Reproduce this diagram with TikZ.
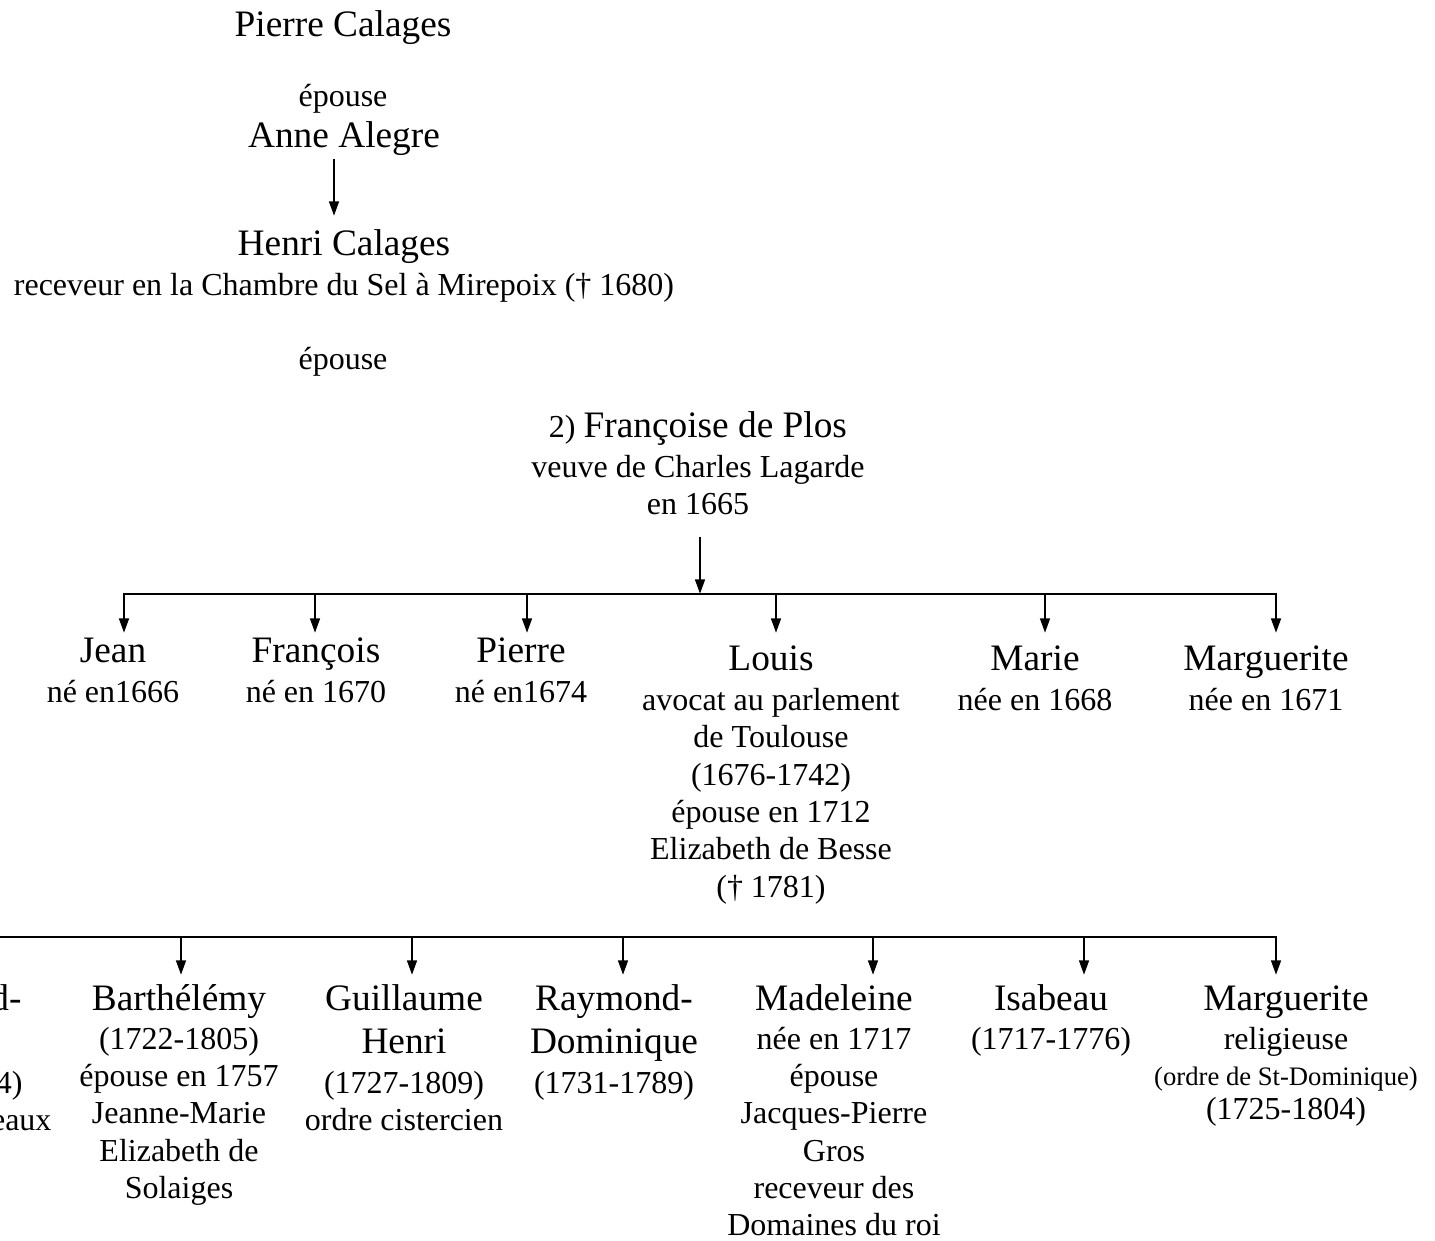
\documentclass[tikz,border=0pt]{standalone}
\usepackage{fontspec}
\setmainfont{Liberation Serif}
\usetikzlibrary{arrows.meta}
\newcommand\bigf{\fontsize{14pt}{16pt}\selectfont}
\newcommand\smallf{\fontsize{12pt}{14pt}\selectfont}
\newcommand\tinyf{\fontsize{10pt}{12pt}\selectfont}
\newcommand\fl{\rule{0pt}{12pt}}
\begin{document}
\begin{tikzpicture}[x=0.375pt,y=-0.375pt,
  every node/.style={inner sep=0pt, align=center, font=\smallf},
  person/.style={anchor=north},
  frag/.style={anchor=base east},
  line/.style={line width=1pt, line cap=rect},
  arr/.style={line width=1pt, -{Triangle[length=5.5pt,width=3.6pt]}}]
\useasboundingbox (0,0) rectangle (1435,1240);

% top generations
\node[person] (pierre) at (343,4) {\fl{\bigf Pierre Calages}};
\node[person] (ep1) at (343,74) {\fl épouse};
\node[person] (anne) at (344,115) {\fl{\bigf Anne Alegre}};
\node[person] (henri) at (344,223) {\fl{\bigf Henri Calages}\\[1pt] receveur en la Chambre du Sel à Mirepoix († 1680)};
\node[person] (ep2) at (343,337) {\fl épouse};
\node[person] (fr) at (698,405) {\fl 2) {\bigf Françoise de Plos}\\[1pt] veuve de Charles Lagarde\\ en 1665};

% children of Henri
\node[person] (jean) at (113,630) {\fl{\bigf Jean}\\[1pt] né en1666};
\node[person] (fran) at (316,630) {\fl{\bigf François}\\[1pt] né en 1670};
\node[person] (pier) at (521,630) {\fl{\bigf Pierre}\\[1pt] né en1674};
\node[person] (louis) at (771,638) {\fl{\bigf Louis}\\[1pt] avocat au parlement\\ de Toulouse\\ (1676-1742)\\ épouse en 1712\\ Elizabeth de Besse\\ († 1781)};
\node[person] (marie) at (1035,638) {\fl{\bigf Marie}\\[1pt] née en 1668};
\node[person] (marg1) at (1266,638) {\fl{\bigf Marguerite}\\[1pt] née en 1671};

% children of Louis
\node[frag] (lk1) at (22,1010) {\bigf d-};
\node[frag] (lk2) at (23,1093) {4)};
\node[frag] (lk3) at (52,1130) {eaux};
\node[person] (bart) at (179,978) {\fl{\bigf Barthélémy}\\[0.5pt] (1722-1805)\\ épouse en 1757\\ Jeanne-Marie\\ Elizabeth de\\ Solaiges};
\node[person] (guil) at (404,978) {\fl{\bigf Guillaume}\\[2.1pt] {\bigf Henri}\\[1pt] (1727-1809)\\ ordre cistercien};
\node[person] (raym) at (614,978) {\fl{\bigf Raymond-}\\[2.1pt] {\bigf Dominique}\\[1pt] (1731-1789)};
\node[person] (made) at (834,978) {\fl{\bigf Madeleine}\\[0.5pt] née en 1717\\ épouse\\ Jacques-Pierre\\ Gros\\ receveur des\\ Domaines du roi};
\node[person] (isab) at (1051,978) {\fl{\bigf Isabeau}\\[0.5pt] (1717-1776)};
\node[person] (marg2) at (1286,978) {\fl{\bigf Marguerite}\\[0.5pt] religieuse\\[-0.5pt] {\tinyf (ordre de St-Dominique)}\\[-1.2pt] (1725-1804)};

% connector levels
\coordinate (bar1) at (700,594);
\coordinate (tip1) at (700,633);
\coordinate (bar2w) at (-60,937);
\coordinate (bar2) at (700,937);
\coordinate (tip2) at (700,975);

\draw[arr] ([shift={(-10,3)}]anne.south) -- ([shift={(-10,-7)}]henri.north);
\draw[arr] ([shift={(2,21)}]fr.south) -- (bar1);
\draw[line] ([shift={(11,0)}]jean.north |- bar1) -- ([shift={(10,0)}]marg1.north |- bar1);
\foreach \nm/\dx in {jean/11,fran/-1,pier/6,louis/5,marie/10,marg1/10}
  \draw[arr] ([shift={(\dx,0)}]\nm.north |- bar1) -- ([shift={(\dx,0)}]\nm.north |- tip1);
\draw[line] (bar2w) -- ([shift={(-10,0)}]marg2.north |- bar2);
\foreach \nm/\dx in {bart/2,guil/8,raym/9,made/39,isab/33,marg2/-10}
  \draw[arr] ([shift={(\dx,0)}]\nm.north |- bar2) -- ([shift={(\dx,0)}]\nm.north |- tip2);
\end{tikzpicture}
\end{document}
